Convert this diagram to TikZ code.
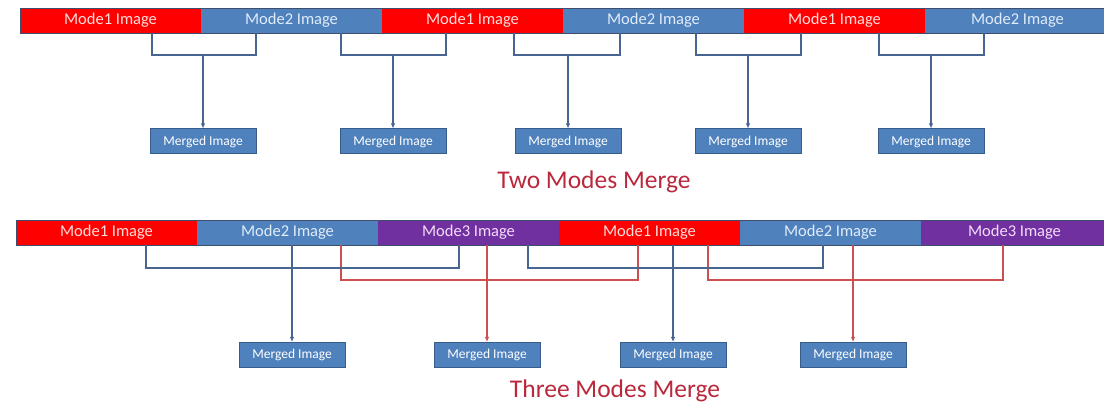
\documentclass[tikz,border=0pt]{standalone}
\usepackage{fontspec}
\setmainfont{Carlito}
\usetikzlibrary{arrows.meta,calc}
\definecolor{segred}{RGB}{255,0,0}
\definecolor{segblue}{RGB}{79,129,189}
\definecolor{segpurple}{RGB}{112,48,160}
\definecolor{barline}{RGB}{62,78,108}
\definecolor{linkblue}{RGB}{72,100,145}
\definecolor{linkred}{RGB}{205,80,80}
\definecolor{boxline}{RGB}{56,93,138}
\definecolor{titlered}{RGB}{185,40,60}
\definecolor{txtred}{RGB}{255,220,220}
\definecolor{txtblue}{RGB}{225,236,250}
\definecolor{txtpurple}{RGB}{245,220,250}

\begin{document}
\begin{tikzpicture}[x=1pt,y=-1pt,
  seg/.style={minimum width=181pt, minimum height=25pt, inner sep=0pt,
    outer sep=0pt, anchor=north west, font=\fontsize{16.5}{18}\selectfont},
  mred/.style={seg, fill=segred, text=txtred},
  mblue/.style={seg, fill=segblue, text=txtblue},
  mpurple/.style={seg, fill=segpurple, text=txtpurple},
  merged/.style={draw=boxline, line width=1pt, fill=segblue, text=white,
    minimum width=106pt, minimum height=25pt, inner sep=0pt,
    font=\fontsize{13.5}{15}\selectfont},
  bluelink/.style={draw=linkblue, line width=1.1pt},
  redlink/.style={draw=linkred, line width=1.1pt},
  tip/.style={-{Latex[length=5pt,width=4.5pt]}},
  heading/.style={text=titlered, font=\fontsize{25.5}{28}\selectfont,
    anchor=base, inner sep=0pt}
]
\useasboundingbox (0,0) rectangle (1104,403);

% ---------- two-mode sequence ----------
\node[mred]    (t1) at (20,8)  {Mode1 Image};
\node[mblue]   (t2) at (201,8) {Mode2 Image};
\node[mred]    (t3) at (382,8) {Mode1 Image};
\node[mblue]   (t4) at (563,8) {Mode2 Image};
\node[mred]    (t5) at (744,8) {Mode1 Image};
\node[mblue, minimum width=185pt] (t6) at (925,8) {Mode2 Image};
\draw[barline, line width=0.8pt] (t1.north west) rectangle (t6.south east);

\node[merged] (m1) at (203,141.5) {Merged Image};
\node[merged] (m2) at (393,141.5) {Merged Image};
\node[merged] (m3) at (568,141.5) {Merged Image};
\node[merged] (m4) at (748,141.5) {Merged Image};
\node[merged] (m5) at (931,141.5) {Merged Image};

% bracket feet on the bar and their joints
\coordinate (a1l) at (152,33); \coordinate (a1r) at (256,33); \coordinate (j1) at (203,55);
\coordinate (a2l) at (341,33); \coordinate (a2r) at (446,33); \coordinate (j2) at (393,55);
\coordinate (a3l) at (514,33); \coordinate (a3r) at (620,33); \coordinate (j3) at (568,55);
\coordinate (a4l) at (696,33); \coordinate (a4r) at (801,33); \coordinate (j4) at (748,55);
\coordinate (a5l) at (879,33); \coordinate (a5r) at (984,33); \coordinate (j5) at (931,55);

\foreach \i in {1,...,5}{
  \draw[bluelink] (a\i l) |- (j\i) -| (a\i r);
  \draw[bluelink, tip] (j\i) -- (m\i.north);
}

\node[heading] (h1) at (594,189) {Two Modes Merge};

% ---------- three-mode sequence ----------
\node[mred]    (b1) at (16,220)  {Mode1 Image};
\node[mblue]   (b2) at (197,220) {Mode2 Image};
\node[mpurple] (b3) at (378,220) {Mode3 Image};
\node[mred]    (b4) at (559,220) {Mode1 Image};
\node[mblue]   (b5) at (740,220) {Mode2 Image};
\node[mpurple, minimum width=183pt] (b6) at (921,220) {\hspace*{4pt}Mode3 Image};
\draw[barline, line width=0.8pt] (b1.north west) rectangle (b6.south east);

\node[merged] (n1) at (292,355) {Merged Image};
\node[merged] (n2) at (487,355) {Merged Image};
\node[merged] (n3) at (673,355) {Merged Image};
\node[merged] (n4) at (853,355) {Merged Image};

\coordinate (cAl) at (146,245);  \coordinate (cAr) at (459,245);  \coordinate (kA) at (292,268); \coordinate (sA) at (292,245);
\coordinate (cBl) at (341,245);  \coordinate (cBr) at (638,245);  \coordinate (kB) at (487,280); \coordinate (sB) at (487,245);
\coordinate (cCl) at (528,245);  \coordinate (cCr) at (823,245);  \coordinate (kC) at (673,268); \coordinate (sC) at (673,245);
\coordinate (cDl) at (708,245);  \coordinate (cDr) at (1003,245); \coordinate (kD) at (853,280); \coordinate (sD) at (853,245);

\draw[redlink] (cBl) |- (kB) -| (cBr);
\draw[redlink] (cDl) |- (kD) -| (cDr);
\draw[bluelink] (cAl) |- (kA) -| (cAr);
\draw[bluelink] (cCl) |- (kC) -| (cCr);

\draw[bluelink, tip] (sA) -- (n1.north);
\draw[redlink, tip]  (sB) -- (n2.north);
\draw[bluelink, tip] (sC) -- (n3.north);
\draw[redlink, tip]  (sD) -- (n4.north);

\node[heading] (h2) at (615,398) {Three Modes Merge};
\end{tikzpicture}
\end{document}
